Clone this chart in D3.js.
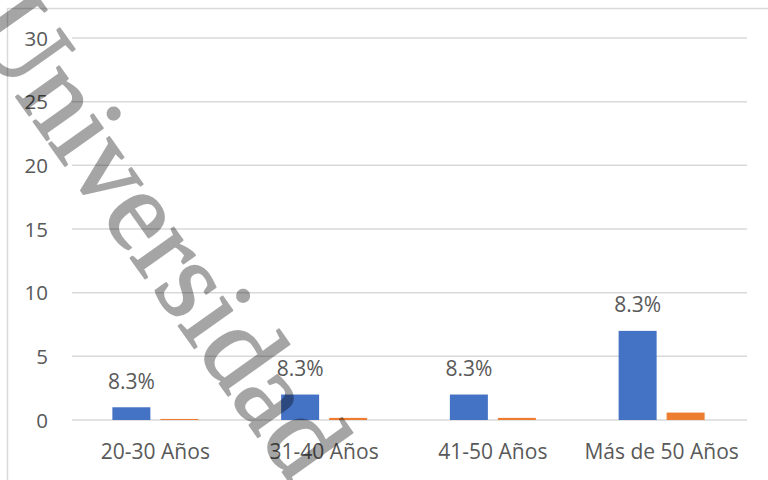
<!DOCTYPE html>
<html>
<head>
<meta charset="utf-8">
<script src="https://cdn.jsdelivr.net/npm/d3@7"></script>
<style>
  html, body { margin: 0; padding: 0; background: #fff; }
  svg { display: block; }
</style>
</head>
<body>
<svg id="chart" width="768" height="480"></svg>
<script>
const categories = ["20-30 Años", "31-40 Años", "41-50 Años", "Más de 50 Años"];
const seriesNames = ["Cantidad", "Porcentaje"];
const countValues = [1, 2, 2, 7];
const shareValues = [0.083, 0.167, 0.167, 0.583];
const barLabels = ["8.3%", "8.3%", "8.3%", "8.3%"];
const yTicks = [0, 5, 10, 15, 20, 25, 30];
const colors = ["#4472C4", "#ED7D31"];
const watermarkText = "Universidad";

const svg = d3.select("#chart");
const font = "'Open Sans', sans-serif";
const textColor = "#595959";

// outer chart border
svg.append("rect")
  .attr("x", 7.5).attr("y", 8.5)
  .attr("width", 800).attr("height", 600)
  .attr("fill", "none").attr("stroke", "#d9d9d9").attr("stroke-width", 1.5);

const y = d3.scaleLinear().domain([0, 30]).range([420, 38]);
const x = d3.scaleBand().domain(categories).range([71, 746]);
const x1 = d3.scaleBand().domain(seriesNames).range([-43, 43]).paddingInner(0.2083);

// gridlines
svg.append("g").selectAll("line").data(yTicks).join("line")
  .attr("x1", 72).attr("x2", 747)
  .attr("y1", d => y(d)).attr("y2", d => y(d))
  .attr("stroke", "#d9d9d9").attr("stroke-width", 1.5);

// y tick labels
svg.append("g").selectAll("text").data(yTicks).join("text")
  .attr("x", 48).attr("y", d => y(d) + 7.5)
  .attr("text-anchor", "end")
  .attr("font-family", font).attr("font-size", 20.5)
  .attr("fill", textColor)
  .text(d => d);

// bars
const rows = categories.map((c, i) => ({ cat: c, vals: [countValues[i], shareValues[i]], label: barLabels[i] }));
const groups = svg.append("g").selectAll("g").data(rows).join("g")
  .attr("transform", d => `translate(${x(d.cat) + x.bandwidth() / 2},0)`);

groups.selectAll("rect").data(d => d.vals.map((v, j) => ({ s: seriesNames[j], v, j }))).join("rect")
  .attr("x", d => x1(d.s))
  .attr("width", x1.bandwidth())
  .attr("y", d => y(d.v))
  .attr("height", d => y(0) - y(d.v))
  .attr("fill", d => colors[d.j]);

// data labels
groups.append("text")
  .attr("x", x1(seriesNames[0]) + x1.bandwidth() / 2)
  .attr("y", d => y(d.vals[0]) - 18.5)
  .attr("text-anchor", "middle")
  .attr("font-family", font).attr("font-size", 21)
  .attr("fill", textColor)
  .text(d => d.label);

// category labels
svg.append("g").selectAll("text").data(categories).join("text")
  .attr("x", d => x(d) + x.bandwidth() / 2)
  .attr("y", 459)
  .attr("text-anchor", "middle")
  .attr("font-family", font).attr("font-size", 21)
  .attr("fill", textColor)
  .text(d => d);

// watermark
svg.append("g").attr("opacity", 0.35)
  .append("text")
  .attr("transform", "translate(-33.6,27.1) rotate(54.6)")
  .attr("font-family", "'Liberation Serif', serif")
  .attr("font-size", 115)
  .attr("fill", "#000")
  .attr("stroke", "#000").attr("stroke-width", 2).attr("stroke-linejoin", "round")
  .text(watermarkText);
</script>
</body>
</html>
